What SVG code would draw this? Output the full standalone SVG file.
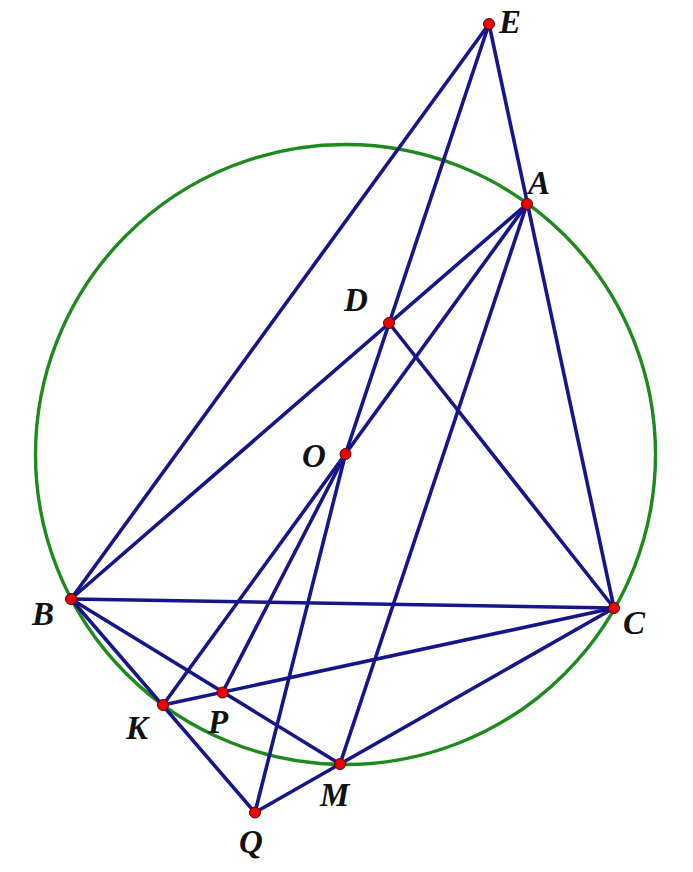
<svg xmlns="http://www.w3.org/2000/svg" width="693" height="872" viewBox="0 0 693 872">
<style>
.ln{stroke:#16168a;stroke-width:3.6;stroke-linecap:round;fill:none}
.pt{fill:#ee0000;stroke:#550000;stroke-width:1}
.lb{font-family:"Liberation Serif",serif;font-style:italic;font-weight:bold;font-size:33px;fill:#111}
</style>
<rect width="693" height="872" fill="#fff"/>
<circle id="circle" cx="345.5" cy="454.5" r="310" fill="none" stroke="#1e8a1e" stroke-width="3.4"/>
<g id="connectors">
<line class="ln" x1="489" y1="24" x2="71" y2="599"/>
<line class="ln" x1="489" y1="24" x2="614" y2="608"/>
<line class="ln" x1="489" y1="24" x2="345.5" y2="454"/>
<line class="ln" x1="527" y1="204" x2="71" y2="599"/>
<line class="ln" x1="527" y1="204" x2="163" y2="705"/>
<line class="ln" x1="527" y1="204" x2="340" y2="764"/>
<line class="ln" x1="389" y1="323" x2="614" y2="608"/>
<line class="ln" x1="71" y1="599" x2="614" y2="608"/>
<line class="ln" x1="71" y1="599" x2="255" y2="812.5"/>
<line class="ln" x1="71" y1="599" x2="340" y2="764"/>
<line class="ln" x1="163" y1="705" x2="614" y2="608"/>
<line class="ln" x1="345.5" y1="454" x2="222.5" y2="692.5"/>
<line class="ln" x1="345.5" y1="454" x2="255" y2="812.5"/>
<line class="ln" x1="255" y1="812.5" x2="340" y2="764"/>
<line class="ln" x1="340" y1="764" x2="614" y2="608"/>
</g>
<g id="E"><circle class="pt" cx="489" cy="24" r="5.5"/><text class="lb" x="499" y="33">E</text></g>
<g id="A"><circle class="pt" cx="527" cy="204" r="5.5"/><text class="lb" x="528" y="194">A</text></g>
<g id="D"><circle class="pt" cx="389" cy="323" r="5.5"/><text class="lb" x="344" y="311">D</text></g>
<g id="O"><circle class="pt" cx="345.5" cy="454" r="5.5"/><text class="lb" x="302" y="467">O</text></g>
<g id="B"><circle class="pt" cx="71" cy="599" r="5.5"/><text class="lb" x="32" y="625">B</text></g>
<g id="C"><circle class="pt" cx="614" cy="608" r="5.5"/><text class="lb" x="623" y="634">C</text></g>
<g id="K"><circle class="pt" cx="163" cy="705" r="5.5"/><text class="lb" x="126" y="739">K</text></g>
<g id="P"><circle class="pt" cx="222.5" cy="692.5" r="5.5"/><text class="lb" x="208" y="733">P</text></g>
<g id="M"><circle class="pt" cx="340" cy="764" r="5.5"/><text class="lb" x="320" y="806">M</text></g>
<g id="Q"><circle class="pt" cx="255" cy="812.5" r="5.5"/><text class="lb" x="239" y="853">Q</text></g>
</svg>
